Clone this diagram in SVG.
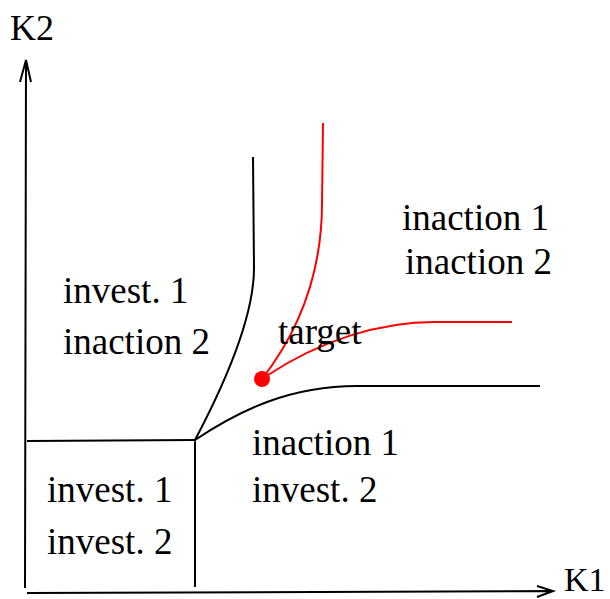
<svg xmlns="http://www.w3.org/2000/svg" width="610" height="599" viewBox="0 0 610 599">
<style>
text{font-family:"Liberation Serif","Times New Roman",serif;font-size:37px;fill:#000}
.k{fill:none;stroke:#000;stroke-width:2}
.r{fill:none;stroke:#f00;stroke-width:2}
</style>
<rect width="610" height="599" fill="#fff"/>
<g id="axes">
<path class="k" d="M25,588 L26,60 M20,82 L26,60 L31,82"/>
<path class="k" d="M27,593 L553,591 M537,586 L553,591 L537,597"/>
<text x="10" y="40" style="font-size:36px">K2</text>
<text x="564" y="591" style="font-size:34px">K1</text>
</g>
<g id="connectors">
<path class="k" d="M27,441 L196,440 M195,440 L195,587"/>
<path class="k" d="M253,157 L254,268 C254,310 232,370 195,440"/>
<path class="k" d="M195,440 C240,410 290,386 357,386 L540,386"/>
<path class="r" d="M262,379 C300,330 322,270 322,203 L323,123"/>
<path class="r" d="M265,377 C320,340 380,322 435,322 L512,322"/>
</g>
<g id="target">
<circle cx="262" cy="379" r="8" fill="#f00"/>
<text x="278" y="344">target</text>
</g>
<g id="region-ul">
<text x="63" y="303">invest. 1</text>
<text x="63" y="354">inaction 2</text>
</g>
<g id="region-ur">
<text x="402" y="230">inaction 1</text>
<text x="405" y="274">inaction 2</text>
</g>
<g id="region-lr">
<text x="252" y="455">inaction 1</text>
<text x="252" y="502">invest. 2</text>
</g>
<g id="region-ll">
<text x="47" y="502">invest. 1</text>
<text x="47" y="554">invest. 2</text>
</g>
</svg>
